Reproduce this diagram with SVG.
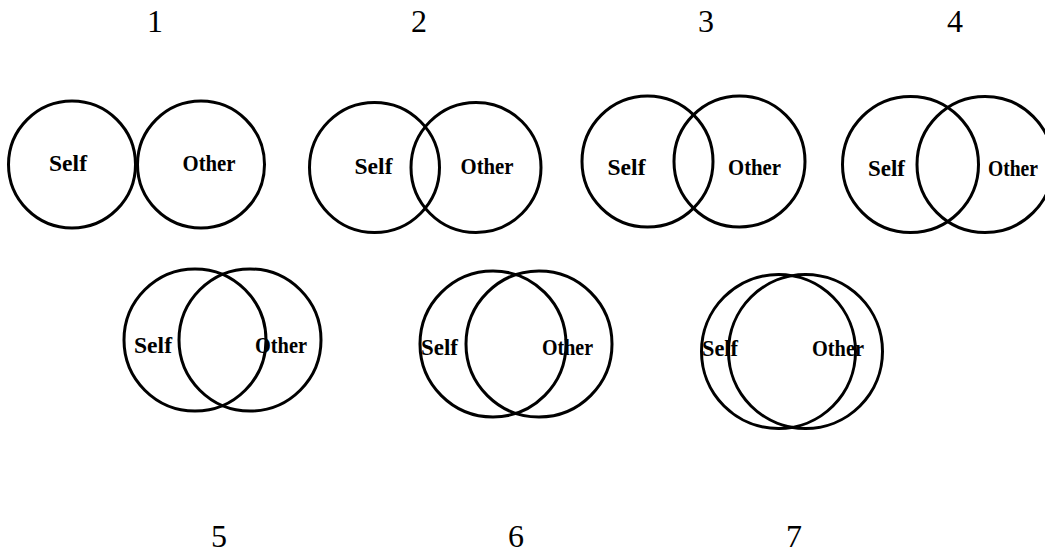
<svg xmlns="http://www.w3.org/2000/svg" width="1045" height="552" viewBox="0 0 1045 552">
<style>
.c{fill:none;stroke:#000;stroke-width:3}
.t{font-family:"Liberation Serif","Times New Roman",serif;font-size:23px;font-weight:bold;fill:#000;text-anchor:middle}
.n{font-family:"Liberation Serif","Times New Roman",serif;font-size:32px;fill:#000;text-anchor:middle}
</style>
<rect width="1045" height="552" fill="#fff"/>
<g id="numbers">
<text class="n" x="155" y="32">1</text>
<text class="n" x="419" y="32">2</text>
<text class="n" x="706" y="32">3</text>
<text class="n" x="955" y="32">4</text>
<text class="n" x="219" y="547">5</text>
<text class="n" x="516" y="547">6</text>
<text class="n" x="794" y="547">7</text>
</g>
<g id="pair1">
<circle class="c" cx="72" cy="164.5" r="63.5"/>
<circle class="c" cx="201" cy="164.5" r="63.5"/>
<text class="t" x="68" y="171" textLength="38" lengthAdjust="spacingAndGlyphs">Self</text>
<text class="t" x="209" y="171" textLength="53" lengthAdjust="spacingAndGlyphs">Other</text>
</g>
<g id="pair2">
<circle class="c" cx="374.5" cy="167.5" r="65"/>
<circle class="c" cx="476" cy="167.5" r="65"/>
<text class="t" x="373.5" y="174" textLength="38" lengthAdjust="spacingAndGlyphs">Self</text>
<text class="t" x="487" y="174" textLength="53" lengthAdjust="spacingAndGlyphs">Other</text>
</g>
<g id="pair3">
<circle class="c" cx="647.5" cy="161.5" r="65.5"/>
<circle class="c" cx="739.5" cy="161.5" r="65.5"/>
<text class="t" x="626.5" y="175" textLength="38" lengthAdjust="spacingAndGlyphs">Self</text>
<text class="t" x="754.5" y="175" textLength="53" lengthAdjust="spacingAndGlyphs">Other</text>
</g>
<g id="pair4">
<circle class="c" cx="910.5" cy="164.5" r="68"/>
<circle class="c" cx="985" cy="164.5" r="68"/>
<text class="t" x="886.5" y="176" textLength="37" lengthAdjust="spacingAndGlyphs">Self</text>
<text class="t" x="1013" y="176" textLength="50" lengthAdjust="spacingAndGlyphs">Other</text>
</g>
<g id="pair5">
<circle class="c" cx="195" cy="340" r="71"/>
<circle class="c" cx="250" cy="340" r="71"/>
<text class="t" x="153" y="353" textLength="38" lengthAdjust="spacingAndGlyphs">Self</text>
<text class="t" x="281" y="353" textLength="52" lengthAdjust="spacingAndGlyphs">Other</text>
</g>
<g id="pair6">
<circle class="c" cx="493" cy="344" r="73"/>
<circle class="c" cx="539" cy="344" r="73"/>
<text class="t" x="439.5" y="355" textLength="37" lengthAdjust="spacingAndGlyphs">Self</text>
<text class="t" x="567.5" y="355" textLength="51" lengthAdjust="spacingAndGlyphs">Other</text>
</g>
<g id="pair7">
<circle class="c" cx="778.5" cy="351.5" r="77"/>
<circle class="c" cx="805.5" cy="351.5" r="77"/>
<text class="t" x="720" y="356" textLength="36" lengthAdjust="spacingAndGlyphs">Self</text>
<text class="t" x="838" y="356" textLength="52" lengthAdjust="spacingAndGlyphs">Other</text>
</g>
</svg>
